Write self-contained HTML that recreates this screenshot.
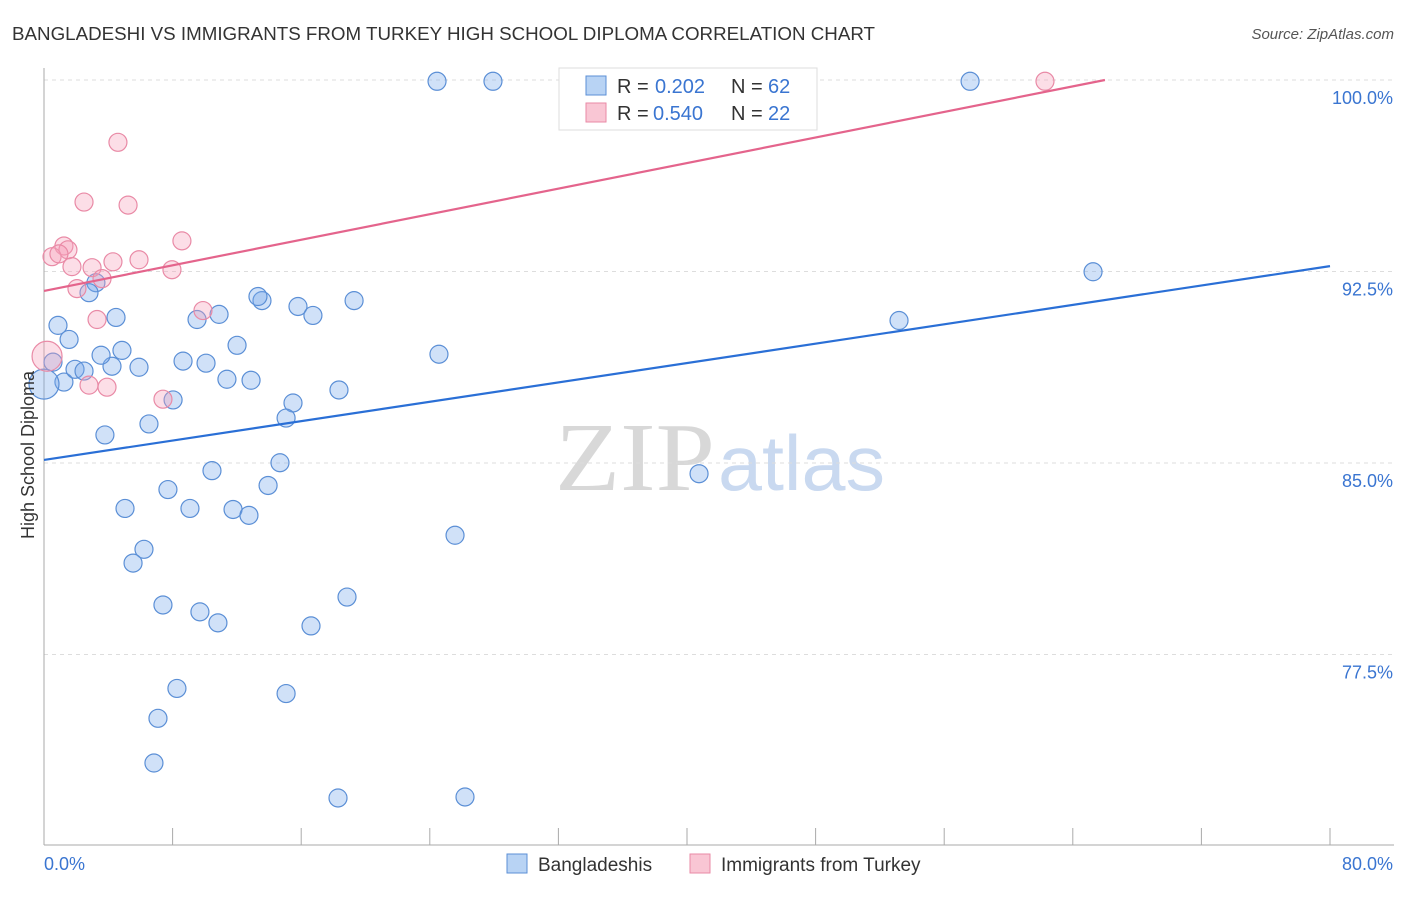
<!DOCTYPE html>
<html><head><meta charset="utf-8"><style>
body{margin:0;background:#fff;font-family:"Liberation Sans",sans-serif;}
</style></head><body>
<svg id="chart" width="1406" height="892" viewBox="0 0 1406 892" xmlns="http://www.w3.org/2000/svg" font-family="Liberation Sans, sans-serif">
<text x="12" y="40" font-size="18" fill="#333" textLength="863" lengthAdjust="spacingAndGlyphs">BANGLADESHI VS IMMIGRANTS FROM TURKEY HIGH SCHOOL DIPLOMA CORRELATION CHART</text>
<text x="1394" y="39" font-size="15" fill="#555" text-anchor="end" font-style="italic">Source: ZipAtlas.com</text>
<text x="555" y="490" font-size="98" fill="#d8d8d8" textLength="160" lengthAdjust="spacingAndGlyphs" style="font-family:'Liberation Serif',serif">ZIP</text>
<text x="718" y="490" font-size="78" fill="#c9d9f0" textLength="167" lengthAdjust="spacingAndGlyphs">atlas</text>
<g id="grid"></g>
<g id="axes"></g>
<g id="marks"></g>
<g id="lines"></g>
<text transform="translate(34,455) rotate(-90)" font-size="18" fill="#333" text-anchor="middle">High School Diploma</text>
<g>
<rect x="559" y="68" width="258" height="62" fill="#fff" stroke="#ddd"/>
<rect x="586" y="76" width="20" height="19" fill="#b8d3f4" stroke="#5b8fd6"/>
<text x="617" y="93" font-size="20" fill="#333">R =</text><text x="655" y="93" font-size="20" fill="#3a75d1">0.202</text>
<text x="731" y="93" font-size="20" fill="#333">N =</text><text x="768" y="93" font-size="20" fill="#3a75d1">62</text>
<rect x="586" y="103" width="20" height="19" fill="#f9c6d4" stroke="#e98aa6"/>
<text x="617" y="120" font-size="20" fill="#333">R =</text><text x="653" y="120" font-size="20" fill="#3a75d1">0.540</text>
<text x="731" y="120" font-size="20" fill="#333">N =</text><text x="768" y="120" font-size="20" fill="#3a75d1">22</text>
</g>
<g>
<rect x="507" y="854" width="20" height="19" fill="#b8d3f4" stroke="#5b8fd6"/>
<text x="538" y="871" font-size="19" fill="#333">Bangladeshis</text>
<rect x="690" y="854" width="20" height="19" fill="#f9c6d4" stroke="#e98aa6"/>
<text x="721" y="871" font-size="19" fill="#333">Immigrants from Turkey</text>
</g>
</svg>
<script>
const yTicks=[100,92.5,85,77.5];
const yTickLabels=["100.0%","92.5%","85.0%","77.5%"];
const xTickLabels=["0.0%","80.0%"];
const blueX=[24.45,27.93,57.61,65.26,53.19,40.75,24.57,25.57,19.29,15.80,16.73,13.56,13.31,12.01,12.88,11.38,10.89,9.52,10.08,8.65,8.03,6.53,5.91,4.85,4.48,4.23,3.55,3.23,2.80,0.87,1.56,0.56,1.24,0,1.93,2.49,3.79,18.35,15.49,15.06,14.68,13.94,10.45,7.71,9.08,11.76,12.75,5.04,6.22,5.54,7.40,9.70,10.82,16.61,18.85,8.27,7.09,15.06,6.84,18.29,26.19];
const blueY=[99.95,99.95,99.95,92.49,90.58,84.58,89.26,82.17,91.36,91.13,90.78,91.36,91.52,89.61,88.24,88.28,90.82,90.62,88.91,88.99,87.47,86.53,88.75,89.41,90.70,88.79,89.22,92.06,91.67,90.39,89.84,88.95,88.17,88.09,88.67,88.60,86.10,87.86,87.35,86.76,85.01,84.12,84.70,83.96,83.22,83.18,82.95,83.22,81.62,81.08,79.44,79.17,78.74,78.62,79.75,76.17,75.00,75.97,73.25,71.88,71.92];
const blueR=[9,9,9,9,9,9,9,9,9,9,9,9,9,9,9,9,9,9,9,9,9,9,9,9,9,9,9,9,9,9,9,9,9,15,9,9,9,9,9,9,9,9,9,9,9,9,9,9,9,9,9,9,9,9,9,9,9,9,9,9,9];
const pinkX=[62.27,4.60,2.49,5.23,8.58,1.24,1.49,0.50,0.93,1.74,2.99,4.29,5.91,7.96,3.61,2.05,3.30,9.89,0.19,2.80,3.92,7.40];
const pinkY=[99.95,97.56,95.22,95.10,93.70,93.50,93.35,93.08,93.19,92.69,92.65,92.88,92.96,92.57,92.22,91.83,90.62,90.97,89.18,88.05,87.97,87.50];
const pinkR=[9,9,9,9,9,9,9,9,9,9,9,9,9,9,9,9,9,9,15,9,9,9];
const blueLine=[85.12,92.71];
const pinkLine=[91.74,100,66.0];
const NS="http://www.w3.org/2000/svg";
const X=v=>44+v/80*1286;
const Y=v=>80+(100-v)/7.5*191.5;
function mk(tag,attrs,parent){const e=document.createElementNS(NS,tag);for(const k in attrs)e.setAttribute(k,attrs[k]);parent.appendChild(e);return e;}
const grid=document.getElementById('grid'),axes=document.getElementById('axes'),marks=document.getElementById('marks'),lines=document.getElementById('lines');
yTicks.forEach((t,i)=>{
  const l=mk('line',{x1:44,x2:1394,y1:Y(t),y2:Y(t),stroke:'#ddd','stroke-dasharray':'4,4'},grid);
  
  
  const tx=mk('text',{x:1393,y:Y(t)+24,'font-size':18,fill:'#3a75d1','text-anchor':'end'},axes);
  tx.textContent=yTickLabels[i];
  
  
});
const ya=mk('line',{x1:44,x2:44,y1:68,y2:845,stroke:'#aaa'},axes);


const xa=mk('line',{x1:44,x2:1394,y1:845,y2:845,stroke:'#aaa'},axes);


for(let i=0;i<=10;i++){
  const tk=mk('line',{x1:X(i*8),x2:X(i*8),y1:828,y2:845,stroke:'#aaa'},axes);
  
  
}
[[0,44,'start'],[80,1393,'end']].forEach((p,i)=>{
  const t=mk('text',{x:p[1],y:870,'font-size':18,fill:'#3a75d1','text-anchor':p[2]},axes);
  t.textContent=xTickLabels[i];
  
  
});
blueX.forEach((v,i)=>{
  const c=mk('circle',{cx:X(v),cy:Y(blueY[i]),r:blueR[i],fill:'rgba(120,170,235,0.35)',stroke:'#5b8fd6','stroke-width':1.2},marks);
  
  
});
pinkX.forEach((v,i)=>{
  const c=mk('circle',{cx:X(v),cy:Y(pinkY[i]),r:pinkR[i],fill:'rgba(245,160,185,0.35)',stroke:'#e98aa6','stroke-width':1.2},marks);
  
  
});
const bl=mk('line',{x1:X(0),y1:Y(blueLine[0]),x2:X(80),y2:Y(blueLine[1]),stroke:'#2a6fd6','stroke-width':2.2},lines);


const pl=mk('line',{x1:X(0),y1:Y(pinkLine[0]),x2:X(pinkLine[2]),y2:Y(pinkLine[1]),stroke:'#e4648c','stroke-width':2.2},lines);


</script>
</body></html>
